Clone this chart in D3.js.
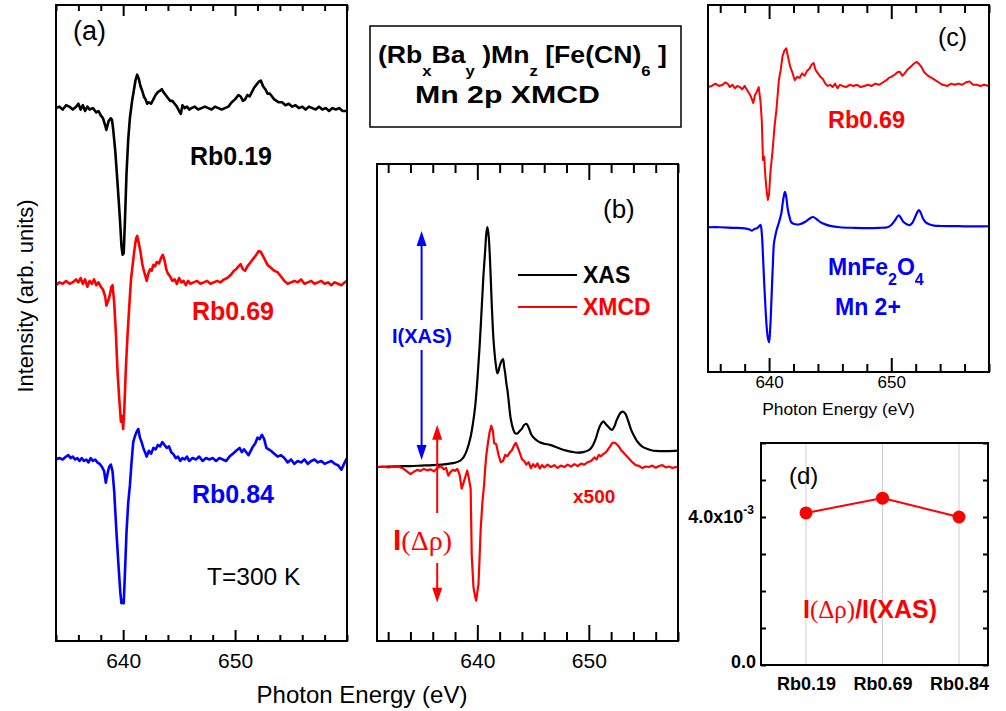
<!DOCTYPE html>
<html>
<head>
<meta charset="utf-8">
<script src="https://cdn.jsdelivr.net/npm/d3@7"></script>
<style>
  body { margin: 0; background: #fff; }
  svg { display: block; font-family: "Liberation Sans", Arial, sans-serif; }
</style>
</head>
<body>
<div id="chart"></div>
<script>
// ---- data ----
// (a) XMCD spectra, [photon energy eV, intensity arb. units], baseline 0
const rb019 = [[634.0,0],[634.3,1],[634.6,-1],[634.9,2],[635.2,1],[635.5,-1],[635.8,1],[636.0,3],[636.2,-1],[636.4,2],[636.6,-2],[636.8,1],[637.0,-1],[637.3,0],[637.6,-3],[637.8,-2],[638.0,-5],[638.2,-7],[638.4,-12],[638.5,-15],[638.7,-9],[638.9,-7],[639.0,-8],[639.1,-14],[639.3,-30],[639.5,-52],[639.7,-75],[639.85,-95],[639.95,-101],[640.05,-100],[640.15,-80],[640.3,-45],[640.45,-22],[640.6,-7],[640.8,5],[640.95,12],[641.1,19],[641.25,23],[641.4,20],[641.55,15],[641.7,12],[641.85,8],[642.0,6],[642.15,3],[642.3,4],[642.5,3],[642.7,6],[642.9,9],[643.1,11],[643.3,12],[643.45,13],[643.6,11],[643.8,9],[644.0,7],[644.2,5],[644.4,5],[644.6,3],[644.8,1],[645.0,-2],[645.15,-4],[645.3,2],[645.5,0],[645.7,1],[645.9,-1],[646.1,0],[646.4,1],[646.7,-1],[647.0,0],[647.3,1],[647.6,0],[647.9,-1],[648.2,1],[648.5,0],[648.8,-1],[649.1,0],[649.4,1],[649.7,4],[650.0,6],[650.3,9],[650.5,8],[650.7,5],[650.9,6],[651.1,9],[651.3,8],[651.5,11],[651.7,14],[651.9,16],[652.1,18],[652.3,19],[652.5,15],[652.7,13],[652.9,10],[653.1,10],[653.3,8],[653.5,6],[653.7,5],[653.9,4],[654.2,4],[654.5,2],[654.8,3],[655.1,1],[655.4,2],[655.7,0],[656.0,1],[656.3,-1],[656.6,1],[656.9,0],[657.2,-1],[657.5,1],[657.8,-1],[658.1,0],[658.4,-2],[658.7,0],[659.0,-1],[659.3,0],[659.6,-2],[660.0,-2]];
const rb069 = [[634.0,-2],[634.3,0],[634.6,-1],[634.9,1],[635.2,-1],[635.5,0],[635.8,2],[636.0,0],[636.2,3],[636.4,-1],[636.6,2],[636.8,-3],[637.0,1],[637.2,-1],[637.4,2],[637.6,-2],[637.8,0],[638.0,-3],[638.2,-5],[638.4,-10],[638.5,-16],[638.7,-12],[638.8,-9],[638.95,-3],[639.05,-2],[639.2,-14],[639.35,-35],[639.5,-62],[639.65,-80],[639.8,-96],[639.9,-92],[640.0,-101],[640.1,-88],[640.25,-58],[640.4,-35],[640.55,-16],[640.7,2],[640.85,12],[641.0,22],[641.15,30],[641.25,32],[641.4,27],[641.55,21],[641.7,13],[641.85,8],[642.0,4],[642.1,1],[642.25,6],[642.4,9],[642.55,8],[642.7,12],[642.85,11],[643.0,14],[643.2,13],[643.4,17],[643.55,19],[643.7,15],[643.85,9],[644.0,6],[644.2,4],[644.4,1],[644.6,2],[644.8,-1],[645.0,3],[645.2,0],[645.4,1],[645.6,-2],[645.8,1],[646.0,-1],[646.3,0],[646.6,1],[646.9,-1],[647.2,0],[647.5,1],[647.8,-1],[648.1,0],[648.4,1],[648.7,0],[649.0,2],[649.3,3],[649.6,5],[649.9,8],[650.1,9],[650.3,11],[650.5,12.5],[650.7,9],[650.9,8],[651.1,11],[651.3,13],[651.5,15],[651.7,17],[651.9,19],[652.1,21.5],[652.3,21],[652.5,18],[652.7,15],[652.9,12],[653.2,10],[653.5,8],[653.8,7],[654.1,4],[654.4,1],[654.7,-1],[655.0,0],[655.3,1],[655.6,0],[655.9,2],[656.2,-1],[656.5,0],[656.8,1],[657.1,-1],[657.4,0],[657.7,1],[658.0,-1],[658.3,0],[658.6,-2],[658.9,0],[659.2,-1],[659.5,-2],[659.8,0],[660.0,1]];
const rb084 = [[634.0,0],[634.3,1],[634.6,0],[634.9,2],[635.1,3],[635.3,1],[635.5,2],[635.7,0],[635.9,1],[636.1,-1],[636.3,1],[636.5,-1],[636.7,0],[636.9,-2],[637.1,1],[637.3,-1],[637.5,0],[637.7,-2],[637.9,-3],[638.1,-5],[638.3,-8],[638.45,-16],[638.6,-10],[638.75,-5],[638.9,-3.5],[639.05,-8],[639.2,-22],[639.4,-50],[639.6,-75],[639.75,-92],[639.85,-99],[639.95,-97],[640.05,-99],[640.15,-80],[640.3,-50],[640.45,-30],[640.6,-18],[640.75,-2],[640.9,12],[641.05,16],[641.2,19],[641.35,21],[641.5,15],[641.65,12],[641.8,8],[641.95,5],[642.1,2],[642.3,6],[642.5,4],[642.7,8],[642.9,7],[643.1,10],[643.3,9],[643.5,12],[643.7,10],[643.9,8],[644.1,9],[644.3,5],[644.5,3.5],[644.7,1],[644.9,2],[645.1,-1],[645.3,1],[645.5,0],[645.7,2],[645.9,-1],[646.2,1],[646.5,0],[646.8,2],[647.1,-1],[647.4,1],[647.7,0],[648.0,1],[648.3,-1],[648.6,1],[648.9,0],[649.2,-1],[649.5,2],[649.8,4],[650.1,6],[650.4,8],[650.6,5],[650.8,7],[651.0,5],[651.2,3],[651.4,6],[651.6,9],[651.8,11],[652.0,15],[652.2,14],[652.4,17],[652.6,14],[652.8,8],[653.0,7],[653.2,6],[653.5,4],[653.8,2],[654.1,3],[654.4,1],[654.7,-2],[655.0,0],[655.3,-3],[655.6,-1],[655.9,-2],[656.2,0],[656.5,-3],[656.8,-1],[657.1,0],[657.4,-2],[657.7,-1],[658.0,-3],[658.3,-2],[658.6,-1],[658.9,-3],[659.2,-4],[659.5,-7],[659.8,-2],[660.0,1]];
const stackOffsets = [0, -120, -242];
const samplesA = ["Rb0.19", "Rb0.69", "Rb0.84"];

// (b) Rb0.69 XAS (peak = 1) and XMCD x500 on the same scale
const xasB = [[631.0,0],[632.0,0.002],[633.0,0.003],[634.0,0.004],[635.0,0.006],[636.0,0.008],[637.0,0.011],[637.5,0.014],[638.0,0.018],[638.5,0.028],[638.8,0.043],[639.1,0.075],[639.4,0.126],[639.6,0.18],[639.8,0.25],[640.0,0.36],[640.2,0.50],[640.4,0.67],[640.55,0.80],[640.7,0.90],[640.8,0.97],[640.9,1.0],[641.0,0.97],[641.1,0.90],[641.2,0.79],[641.3,0.67],[641.4,0.57],[641.5,0.50],[641.65,0.43],[641.8,0.39],[641.9,0.40],[642.0,0.42],[642.15,0.44],[642.3,0.45],[642.4,0.42],[642.5,0.39],[642.6,0.35],[642.7,0.32],[642.8,0.28],[643.0,0.20],[643.2,0.16],[643.4,0.14],[643.6,0.14],[643.8,0.15],[644.0,0.16],[644.2,0.175],[644.4,0.18],[644.6,0.165],[644.8,0.14],[645.0,0.125],[645.3,0.112],[645.6,0.103],[646.0,0.097],[646.5,0.092],[647.0,0.084],[647.5,0.075],[648.0,0.068],[648.5,0.063],[649.0,0.06],[649.5,0.062],[650.0,0.07],[650.3,0.085],[650.6,0.115],[650.9,0.16],[651.1,0.18],[651.3,0.19],[651.5,0.18],[651.7,0.17],[651.9,0.16],[652.1,0.155],[652.3,0.17],[652.5,0.195],[652.7,0.215],[652.9,0.228],[653.1,0.23],[653.3,0.22],[653.5,0.196],[653.8,0.155],[654.1,0.126],[654.4,0.103],[654.8,0.085],[655.2,0.076],[655.6,0.07],[656.0,0.067],[657.0,0.066],[658.0,0.068]];
const xmcdB = [[631.0,0],[631.5,0.002],[632.0,-0.002],[632.5,0.001],[633.0,0],[633.3,-0.005],[633.6,-0.015],[634.0,-0.03],[634.3,-0.02],[634.6,-0.012],[634.9,-0.016],[635.2,-0.008],[635.5,-0.014],[635.8,-0.01],[636.1,-0.018],[636.4,-0.006],[636.7,0.004],[637.0,-0.01],[637.2,-0.004],[637.4,-0.036],[637.6,-0.02],[637.8,-0.012],[638.0,-0.016],[638.2,-0.008],[638.4,-0.03],[638.6,-0.09],[638.8,-0.06],[639.0,-0.03],[639.1,-0.015],[639.25,-0.05],[639.4,-0.09],[639.5,-0.37],[639.65,-0.5],[639.8,-0.54],[639.9,-0.557],[640.0,-0.52],[640.1,-0.49],[640.2,-0.38],[640.3,-0.26],[640.45,-0.15],[640.6,-0.078],[640.7,-0.01],[640.8,0.047],[640.95,0.1],[641.1,0.145],[641.25,0.172],[641.4,0.15],[641.5,0.10],[641.7,0.095],[641.9,0.05],[642.1,0.02],[642.3,0.025],[642.5,0.05],[642.7,0.045],[642.9,0.06],[643.1,0.07],[643.3,0.09],[643.45,0.10],[643.6,0.085],[643.8,0.06],[644.0,0.033],[644.2,0.025],[644.4,0.01],[644.6,0.02],[644.8,-0.005],[645.0,0.012],[645.2,0.0],[645.4,0.015],[645.6,-0.006],[645.8,0.008],[646.0,-0.002],[646.3,0.01],[646.6,0.0],[646.9,0.008],[647.2,-0.004],[647.5,0.006],[647.8,0.0],[648.1,0.01],[648.4,0.002],[648.7,0.012],[649.0,0.004],[649.3,0.014],[649.6,0.01],[649.9,0.02],[650.2,0.025],[650.5,0.04],[650.7,0.032],[650.9,0.05],[651.1,0.045],[651.3,0.054],[651.5,0.06],[651.7,0.072],[651.9,0.085],[652.1,0.1],[652.3,0.102],[652.5,0.095],[652.7,0.085],[652.9,0.07],[653.1,0.06],[653.3,0.05],[653.6,0.035],[653.9,0.02],[654.2,0.008],[654.5,0.005],[654.8,-0.004],[655.1,0.002],[655.4,0.0],[655.7,0.006],[656.0,-0.003],[656.3,0.004],[656.6,0.008],[656.9,-0.002],[657.2,0.002],[657.5,-0.004],[657.8,0.0],[658.0,-0.002]];

// (c) Rb0.69 compared with MnFe2O4 reference
const rb069C = [[635.0,-1],[635.3,0],[635.6,2],[635.9,0],[636.2,1],[636.4,3],[636.6,2],[636.8,-1],[637.0,1],[637.2,-2],[637.4,0],[637.6,-1],[637.8,-3],[638.0,0],[638.2,-3.5],[638.4,-7],[638.5,-9],[638.7,-15],[638.85,-8],[639.0,-5],[639.15,-1],[639.3,-14],[639.4,-30],[639.5,-65],[639.6,-62],[639.7,-80],[639.8,-92],[639.9,-100],[640.0,-95],[640.1,-77],[640.3,-55],[640.45,-35],[640.6,-21],[640.8,5],[640.95,14],[641.1,26],[641.25,31],[641.4,33],[641.5,28],[641.6,23],[641.75,16],[641.9,12],[642.1,5],[642.3,8],[642.5,7],[642.7,11],[642.9,9],[643.1,13],[643.3,15],[643.5,19],[643.65,20],[643.8,14],[644.0,11],[644.2,8],[644.4,6],[644.6,2],[644.8,0],[645.0,1],[645.2,-1],[645.4,2],[645.6,-2],[645.8,1],[646.0,0],[646.3,-1],[646.6,1],[646.9,0],[647.2,1],[647.5,-1],[647.8,0],[648.1,1],[648.4,0],[648.7,2],[649.0,1],[649.3,3],[649.6,5],[649.8,7],[650.0,8],[650.3,10],[650.5,12],[650.7,12.5],[650.9,9],[651.1,11],[651.3,14],[651.5,16],[651.7,18],[651.9,20],[652.1,21],[652.3,19],[652.5,16],[652.7,12],[653.0,9],[653.3,7],[653.6,5],[653.9,3],[654.2,1],[654.6,0],[654.9,2],[655.2,1],[655.5,2],[655.8,1],[656.1,3],[656.4,4],[656.7,1],[657.0,1],[657.3,0],[657.6,1],[658.0,0]];
const mnfe2o4C = [[635.0,0],[636.0,0],[637.0,-0.5],[638.0,-1],[638.4,-2],[638.6,-3],[638.8,-1.5],[639.0,-1],[639.2,1],[639.3,2],[639.4,-5],[639.5,-25],[639.6,-49],[639.7,-70],[639.8,-87],[639.9,-97],[640.0,-101],[640.1,-87],[640.2,-62],[640.3,-35],[640.4,-14],[640.5,-8],[640.6,-3],[640.8,4],[641.0,12],[641.1,20],[641.2,27],[641.3,31],[641.4,27],[641.5,18],[641.6,12],[641.7,8],[641.8,4.6],[642.0,3],[642.5,2.6],[643.0,5],[643.3,7.5],[643.6,9],[643.9,7],[644.2,4.5],[644.6,2.5],[645.0,1.2],[645.8,0],[647.0,-0.5],[648.0,-0.7],[649.0,-0.5],[649.7,0],[650.0,2],[650.3,6],[650.6,10.5],[650.8,8],[651.0,4.6],[651.3,2.5],[651.5,1.8],[651.7,3.5],[651.9,7.6],[652.1,12.5],[652.25,15],[652.4,13],[652.6,7.6],[652.8,4.5],[653.1,2.6],[653.5,1.5],[654.0,1.1],[655.0,1],[656.0,0.8],[657.0,0.8],[658.0,0.9]];
const offsetsC = [0, -124];

// (d) ratio I(Δρ)/I(XAS)
const samplesD = ["Rb0.19", "Rb0.69", "Rb0.84"];
const ratioD = [4.11e-3, 4.51e-3, 4.0e-3];

const ticksAB = [640, 650];
const ticksC = [640, 650];

// ---- layout ----
const width = 1006, height = 711;
const A = { x0: 56, x1: 347, y0: 5, y1: 641 };
const B = { x0: 377, x1: 678, y0: 164, y1: 641 };
const C = { x0: 708, x1: 989, y0: 5, y1: 372 };
const D = { x0: 761, x1: 988, y0: 443, y1: 665 };

const svg = d3.select("#chart").append("svg")
    .attr("width", width)
    .attr("height", height);

const xA = d3.scaleLinear().domain([634, 660]).range([A.x0, A.x1]);
const yA = d3.scaleLinear().domain([-367, 71]).range([A.y1, A.y0]);
const xB = d3.scaleLinear().domain([631, 658]).range([B.x0, B.x1]);
const yB = d3.scaleLinear().domain([-0.725, 1.2625]).range([B.y1, B.y0]);
const xC = d3.scaleLinear().domain([635, 658]).range([C.x0, C.x1]);
const yC = d3.scaleLinear().domain([-251, 71]).range([C.y1, C.y0]);
const xD = d3.scalePoint().domain(samplesD).range([806, 959]);
const yD = d3.scaleLinear().domain([0, 0.006]).range([D.y1, D.y0]);

// inward ticks on top and bottom edges, labels only on bottom majors
function energyTicks(x, P, majors, majorLen, minorLen, fontSize, pad) {
    const minors = d3.range(Math.ceil(x.domain()[0] / 2) * 2, x.domain()[1] + 0.01, 2)
        .filter(v => !majors.includes(v));
    const bottom = svg.append("g").attr("transform", `translate(0,${P.y1})`);
    bottom.append("g").call(d3.axisBottom(x).tickValues(minors).tickSize(-minorLen).tickFormat(""));
    bottom.append("g").call(d3.axisBottom(x).tickValues(majors).tickSize(-majorLen).tickPadding(pad).tickFormat(d3.format("d")));
    const top = svg.append("g").attr("transform", `translate(0,${P.y0})`);
    top.append("g").call(d3.axisTop(x).tickValues(minors).tickSize(-minorLen).tickFormat(""));
    top.append("g").call(d3.axisTop(x).tickValues(majors).tickSize(-majorLen).tickFormat(""));
    svg.selectAll(".domain").remove();
    [bottom, top].forEach(g => {
        g.selectAll("line").attr("stroke", "#000").attr("stroke-width", 2);
        g.selectAll("text").attr("fill", "#000").style("font-size", fontSize + "px")
            .style("font-family", "'Liberation Sans', Arial, sans-serif");
    });
}

function frame(P) {
    svg.append("rect")
        .attr("x", P.x0).attr("y", P.y0)
        .attr("width", P.x1 - P.x0).attr("height", P.y1 - P.y0)
        .attr("fill", "none").attr("stroke", "#000").attr("stroke-width", 2);
}

function label(x, y, txt, opts = {}) {
    return svg.append("text")
        .attr("x", x).attr("y", y)
        .attr("text-anchor", opts.anchor || "start")
        .attr("fill", opts.color || "#000")
        .style("font-size", (opts.size || 22) + "px")
        .style("font-weight", opts.bold ? "bold" : "normal")
        .text(txt);
}

// ---- panel (a) ----
const lineA = (off) => d3.line().x(d => xA(d[0])).y(d => yA(d[1] + off));
const colorsA = ["#000000", "#ff0000", "#0000ff"];
[rb019, rb069, rb084].forEach((s, i) => {
    svg.append("path").datum(s)
        .attr("d", lineA(stackOffsets[i]))
        .attr("fill", "none").attr("stroke", colorsA[i])
        .attr("stroke-width", 2.6).attr("stroke-linejoin", "round");
});
frame(A);
energyTicks(xA, A, ticksAB, 11, 6, 21, 12);
label(73, 40, "(a)", { size: 27 });
label(190, 165, samplesA[0], { size: 25, bold: true, color: colorsA[0] });
label(192, 320, samplesA[1], { size: 25, bold: true, color: colorsA[1] });
label(192, 503, samplesA[2], { size: 25, bold: true, color: colorsA[2] });
label(207, 585, "T=300 K", { size: 24.5 });

// ---- panel (b) ----
const lineB = d3.line().x(d => xB(d[0])).y(d => yB(d[1]));
svg.append("path").datum(xasB).attr("d", lineB.curve(d3.curveCatmullRom))
    .attr("fill", "none").attr("stroke", "#000").attr("stroke-width", 2.2);
svg.append("path").datum(xmcdB).attr("d", d3.line().x(d => xB(d[0])).y(d => yB(d[1]))(xmcdB))
    .attr("fill", "none").attr("stroke", "#ff0000").attr("stroke-width", 2.2).attr("stroke-linejoin", "round");
frame(B);
energyTicks(xB, B, ticksAB, 16, 9, 21, 12);
label(603, 218, "(b)", { size: 26 });

// legend
[["XAS", "#000", 275], ["XMCD", "#ff0000", 307]].forEach(([name, c, y]) => {
    svg.append("line").attr("x1", 518).attr("x2", 577).attr("y1", y).attr("y2", y)
        .attr("stroke", c).attr("stroke-width", 2);
    label(583, y + 8, name, { size: 23, bold: true, color: c });
});
label(573, 503, "x500", { size: 19, bold: true, color: "#ff0000" });

// double arrows with a gap for the text
function doubleArrow(x, yTop, yBot, gapTop, gapBot, color) {
    const g = svg.append("g").attr("stroke", color).attr("fill", color);
    const head = 15, hw = 5;
    g.append("line").attr("x1", x).attr("x2", x).attr("y1", yTop + head - 1).attr("y2", gapTop).attr("stroke-width", 2);
    g.append("line").attr("x1", x).attr("x2", x).attr("y1", gapBot).attr("y2", yBot - head + 1).attr("stroke-width", 2);
    g.append("path").attr("stroke", "none")
        .attr("d", `M${x},${yTop} L${x - hw},${yTop + head} L${x + hw},${yTop + head} Z`);
    g.append("path").attr("stroke", "none")
        .attr("d", `M${x},${yBot} L${x - hw},${yBot - head} L${x + hw},${yBot - head} Z`);
}
const xasMax = d3.max(xasB, d => d[1]);
doubleArrow(xB(635.0), yB(xasMax) + 4, yB(0) - 7, 320, 350, "#0000ff");
label(422, 343, "I(XAS)", { size: 20, bold: true, color: "#0000ff", anchor: "middle" });
doubleArrow(xB(636.4), yB(d3.max(xmcdB, d => d[1])) - 1, yB(d3.min(xmcdB, d => d[1])) + 2, 513, 563, "#ff0000");
const dRho = label(393, 550, "", { color: "#ff0000" });
dRho.append("tspan").style("font-weight", "bold").style("font-size", "30px").text("I");
dRho.append("tspan").style("font-family", "'Liberation Serif', 'Times New Roman', serif").style("font-size", "28px").text("(Δρ)");

// ---- panel (c) ----
const lineC = (off) => d3.line().x(d => xC(d[0])).y(d => yC(d[1] + off));
svg.append("path").datum(rb069C).attr("d", lineC(offsetsC[0]))
    .attr("fill", "none").attr("stroke", "#ff0000").attr("stroke-width", 2).attr("stroke-linejoin", "round");
svg.append("path").datum(mnfe2o4C).attr("d", lineC(offsetsC[1]).curve(d3.curveCatmullRom))
    .attr("fill", "none").attr("stroke", "#0000ff").attr("stroke-width", 2.2);
frame(C);
energyTicks(xC, C, ticksC, 14, 8, 17, 4);
label(938, 46, "(c)", { size: 25 });
label(828, 128, "Rb0.69", { size: 23.5, bold: true, color: "#ff0000" });
const mnfe = label(828, 275, "", { size: 23, bold: true, color: "#0000ff" });
mnfe.append("tspan").text("MnFe");
mnfe.append("tspan").attr("dy", 10).style("font-size", "16px").text("2");
mnfe.append("tspan").attr("dy", -10).text("O");
mnfe.append("tspan").attr("dy", 10).style("font-size", "16px").text("4");
label(835, 315, "Mn 2+", { size: 23, bold: true, color: "#0000ff" });
label((C.x0 + C.x1) / 2 - 10, 415, "Photon Energy (eV)", { size: 17.4, anchor: "middle" });

// ---- panel (d) ----
svg.append("g").selectAll("line").data(samplesD).join("line")
    .attr("x1", d => xD(d)).attr("x2", d => xD(d))
    .attr("y1", D.y0).attr("y2", D.y1)
    .attr("stroke", "#cfcfcf").attr("stroke-width", 1);
const lineD = d3.line().x((d, i) => xD(samplesD[i])).y(d => yD(d));
svg.append("path").datum(ratioD).attr("d", lineD)
    .attr("fill", "none").attr("stroke", "#ff0000").attr("stroke-width", 2);
svg.append("g").selectAll("circle").data(ratioD).join("circle")
    .attr("cx", (d, i) => xD(samplesD[i])).attr("cy", d => yD(d))
    .attr("r", 6.5).attr("fill", "#ff0000");
frame(D);
const yTicksD = d3.range(0, 0.0061, 0.001);
svg.append("g").attr("transform", `translate(${D.x0},0)`)
    .call(d3.axisLeft(yD).tickValues(yTicksD).tickSize(-5).tickFormat(""));
svg.append("g").attr("transform", `translate(${D.x1},0)`)
    .call(d3.axisRight(yD).tickValues(yTicksD).tickSize(-5).tickFormat(""));
svg.append("g").attr("transform", `translate(0,${D.y1})`)
    .call(d3.axisBottom(xD).tickSize(0).tickPadding(12))
    .call(g => g.selectAll("text").style("font-size", "18px").style("font-weight", "bold")
        .style("font-family", "'Liberation Sans', Arial, sans-serif").attr("fill", "#000"));
svg.selectAll(".domain").remove();
svg.selectAll(".tick line").attr("stroke", "#000").attr("stroke-width", 2);
label(D.x0 - 5, yD(0) + 3, "0.0", { size: 18, bold: true, anchor: "end" });
const lab4 = label(D.x0 - 7, yD(0.004) + 6, "", { size: 18, bold: true, anchor: "end" });
lab4.append("tspan").text("4.0x10");
lab4.append("tspan").attr("dy", -9).style("font-size", "12px").text("-3");
label(789, 484, "(d)", { size: 24 });
const ratioLab = label(803, 618, "", { size: 25, bold: true, color: "#ff0000" });
ratioLab.append("tspan").text("I");
ratioLab.append("tspan").style("font-family", "'Liberation Serif', 'Times New Roman', serif").style("font-weight", "normal").text("(Δρ)");
ratioLab.append("tspan").text("/I(XAS)");

// ---- title box ----
svg.append("rect").attr("x", 370).attr("y", 26).attr("width", 311).attr("height", 101)
    .attr("fill", "none").attr("stroke", "#000").attr("stroke-width", 1.5);
function fitWidth(sel, x, w) {
    const bw = sel.node().getBBox().width;
    sel.attr("transform", `translate(${x},0) scale(${w / bw},1) translate(${-x},0)`);
}
const t1 = label(378, 63, "", { size: 24, bold: true });
[["(Rb", 0], ["x", 1], ["Ba", 0], ["y", 1], [" )Mn", 0], ["z", 1], [" [Fe(CN)", 0], ["6", 1], [" ]", 0]]
    .forEach(([s, sub], i, arr) => {
        const prev = i > 0 ? arr[i - 1][1] : 0;
        t1.append("tspan").attr("dy", sub && !prev ? 13 : (!sub && prev ? -13 : 0))
            .style("font-size", sub ? "15px" : null).text(s);
    });
fitWidth(t1, 378, 289);
const t2 = label(415, 103, "Mn 2p XMCD", { size: 24, bold: true });
fitWidth(t2, 415, 185);

// ---- shared axis titles ----
label(362, 703, "Photon Energy (eV)", { size: 24, anchor: "middle" });
svg.append("text")
    .attr("transform", "translate(33,296) rotate(-90)")
    .attr("text-anchor", "middle")
    .style("font-size", "22px")
    .text("Intensity (arb. units)");
</script>
</body>
</html>
